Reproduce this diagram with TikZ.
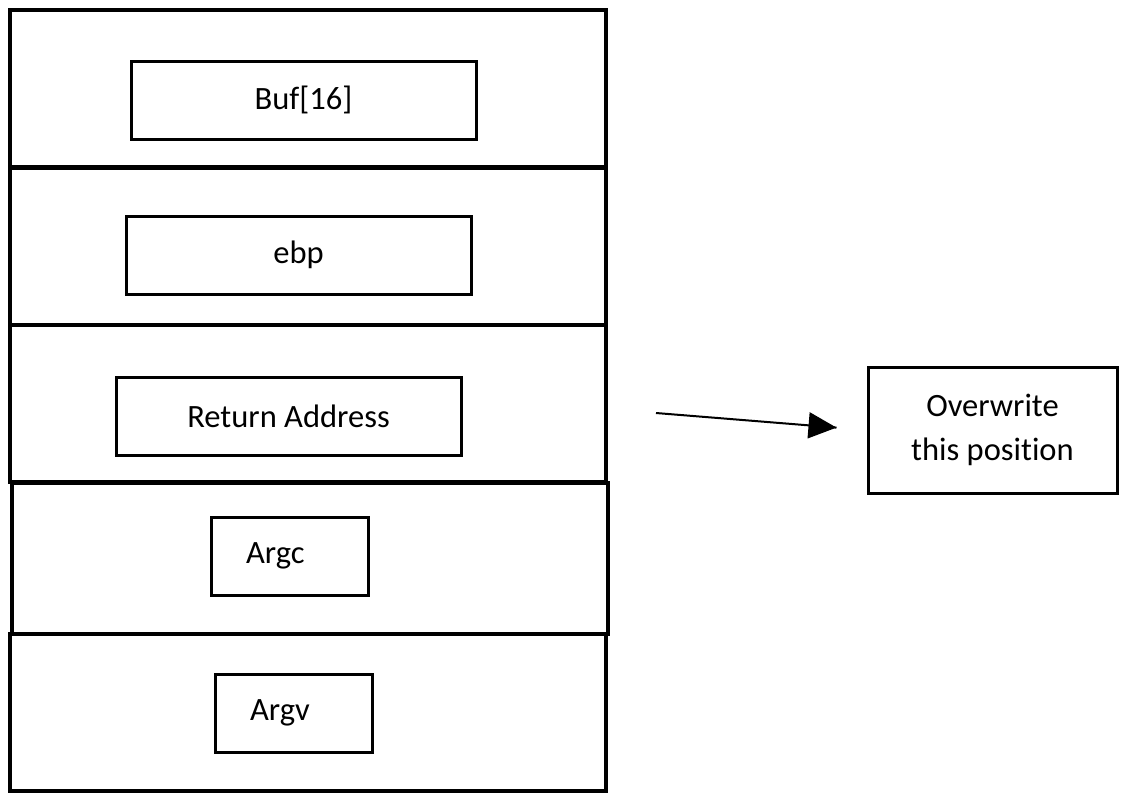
\documentclass[tikz,border=0pt]{standalone}
\usepackage{fontspec}
\setmainfont[Ligatures={NoCommon}]{Carlito}
\usetikzlibrary{arrows.meta}
\usetikzlibrary{calc,positioning}
\usetikzlibrary{decorations.markings}

\tikzset{
  cell/.style={draw, line width=3pt, minimum width=447pt, minimum height=117.75pt, inner sep=0pt},
  slot/.style={draw, line width=2.25pt, minimum height=58.5pt, inner sep=0pt, font=\fontsize{24.4}{33}\selectfont},
  wideslot/.style={slot, minimum width=258.75pt},
  narrowslot/.style={slot, text width=65.25pt, inner xsep=26.25pt, align=left},
}

\begin{document}
\begin{tikzpicture}[x=0.75pt,y=-0.75pt]
      \useasboundingbox (0,0) rectangle (1125,804);
      % stack frame
      \node[cell] (frame1) at (308,88.5) {};
      \node[cell] (frame2) at (308,246) {};
      \node[cell] (frame3) at (308,403.5) {};
      \node[cell, minimum height=113.25pt] (frame4) at (310,558.5) {};
      \node[cell] (frame5) at (308,712.5) {};

      \node[wideslot] (buf) at (303.5,100) {Buf[16]};
      \node[wideslot] (ebp) at (298.5,255) {ebp};
      \node[wideslot] (ret) at (288.5,416) {Return Address};
      \node[narrowslot] (argc) at (289.5,556) {Argc};
      \node[narrowslot] (argv) at (293.5,713) {Argv};

      \node[draw, line width=2.25pt, minimum width=186.75pt, minimum height=94.5pt,
        align=center, font=\fontsize{24.4}{33}\selectfont] (over) at (992.5,430)
        {Overwrite\\this position};

      \coordinate (ptr) at (656,413);
      \coordinate (hit) at ([xshift=-22.5pt,yshift=1.8pt]over.west);
      \draw[
      line width=1.5pt,
      decoration={markings,mark=at position 1 with {\arrow{Triangle[length=21pt,width=19.5pt]}}},
      postaction={decorate}
      ]
      (ptr) -- (hit);

    \end{tikzpicture}
\end{document}
